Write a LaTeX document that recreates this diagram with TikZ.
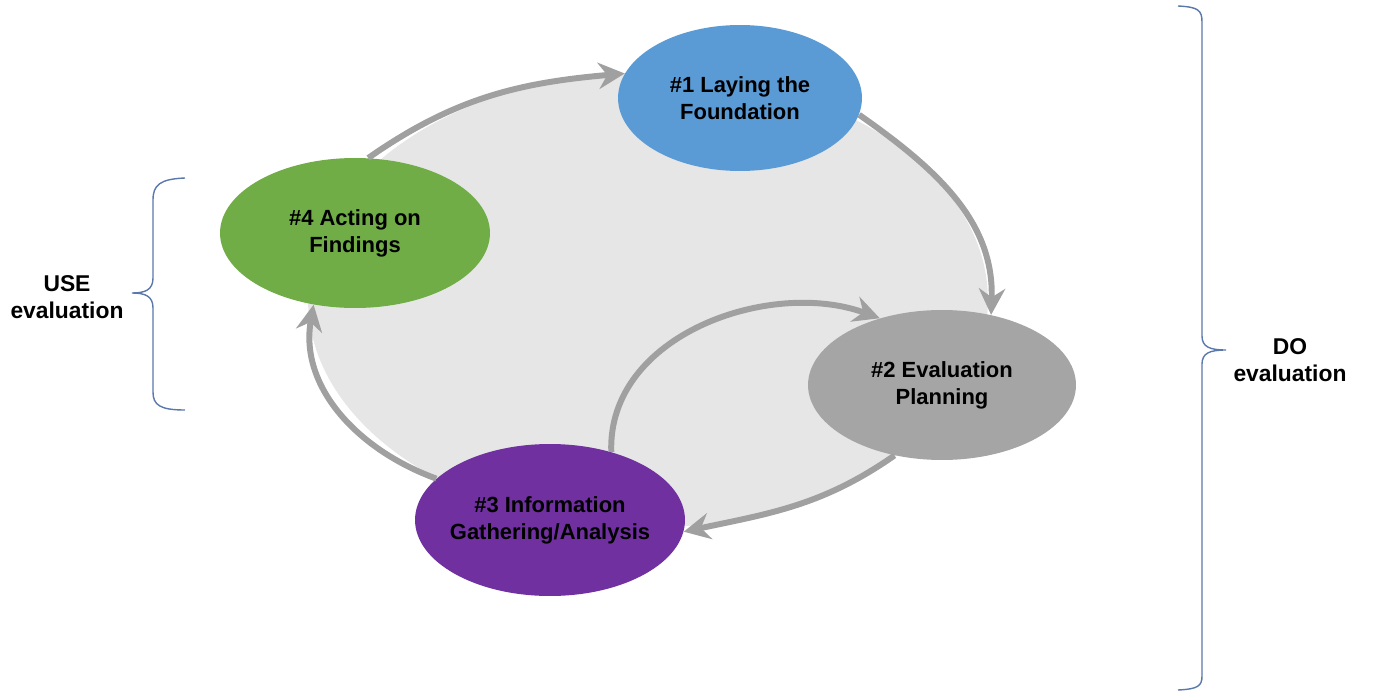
\documentclass[tikz,border=0pt]{standalone}
\usepackage{fontspec}
\setmainfont{Liberation Sans}
\usetikzlibrary{shapes.geometric,arrows.meta}
\definecolor{stepblue}{HTML}{5B9BD5}
\definecolor{stepgreen}{HTML}{70AD47}
\definecolor{stepgray}{HTML}{A5A5A5}
\definecolor{steppurple}{HTML}{7030A0}
\definecolor{ringgray}{HTML}{E6E6E6}
\definecolor{flowgray}{HTML}{A0A0A0}
\definecolor{bracketblue}{HTML}{5A78AC}
\tikzset{
  stage/.style={ellipse,inner sep=-3pt,align=center,font=\bfseries\fontsize{12.5}{15.3}\selectfont},
  flow/.style={draw=flowgray,line width=3.4pt,-{Stealth[length=15pt,width=15pt,inset=5pt]}},
  bracket/.style={draw=bracketblue,line width=0.8pt},
  side/.style={align=center,font=\bfseries\fontsize{13}{15.5}\selectfont}
}
\begin{document}
\begin{tikzpicture}[x=0.02cm,y=-0.02cm]
\useasboundingbox (0,0) rectangle (1373,693);
\node[ellipse,fill=ringgray,minimum width=13.6cm,minimum height=9.1cm] (ring) at (648,300) {};

\node[stage,fill=stepblue,minimum width=4.88cm,minimum height=2.92cm] (n1) at (740,98) {\#1 Laying the\\Foundation};
\node[stage,fill=stepgray,minimum width=5.36cm,minimum height=3cm] (n2) at (942,385) {\#2 Evaluation\\Planning};
\node[stage,fill=steppurple,minimum width=5.4cm,minimum height=3.04cm] (n3) at (550,520) {\#3 Information\\Gathering/Analysis};
\node[stage,fill=stepgreen,minimum width=5.4cm,minimum height=3cm] (n4) at (355,233) {\#4 Acting on\\Findings};

\draw[flow] (n4.80) to[out=35,in=185] (n1.168);
\draw[flow] (n1.-8) to[out=-35,in=88] (n2.55);
\draw[flow] (n2.-124) to[out=215,in=12] (n3.-5);
\draw[flow] (n3.160) to[out=160,in=-100] (n4.-120);
\draw[flow] (n3.48) to[out=92,in=160] (n2.133);

\node[side] (use) at (67,297) {USE\\evaluation};
\node[side] (do) at (1290,360) {DO\\evaluation};

\draw[bracket] (185,178) .. controls (160,179) and (153,185) .. (153,200) -- (153,278)
  .. controls (153,290) and (145,293) .. (132,293) .. controls (145,293) and (153,296) .. (153,308)
  -- (153,392) .. controls (153,405) and (160,410) .. (185,410);
\draw[bracket] (1178,6) .. controls (1198,7) and (1202,10) .. (1202,22) -- (1202,336)
  .. controls (1202,347) and (1210,350) .. (1226,350) .. controls (1210,350) and (1202,353) .. (1202,364)
  -- (1202,676) .. controls (1202,686) and (1198,689) .. (1178,690);
\end{tikzpicture}
\end{document}
